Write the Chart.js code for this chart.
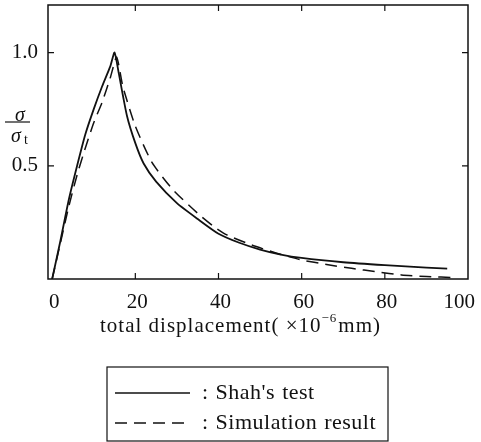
<!DOCTYPE html>
<html>
<head>
<meta charset="utf-8">
<script src="https://cdn.jsdelivr.net/npm/chart.js@4.4.1/dist/chart.umd.min.js"></script>
<style>
  html, body { margin: 0; padding: 0; background: #fff; }
  #wrap { width: 481px; height: 442px; }
</style>
</head>
<body>
<div id="wrap"><canvas id="chart"></canvas></div>
<script>
// data
var shahX = [0, 2, 4, 6, 8, 10, 12, 14, 15, 16, 18, 20, 22, 25, 30, 35, 40, 45, 50, 55, 60, 70, 80, 90, 95];
var shahY = [0, 0.17, 0.35, 0.50, 0.64, 0.75, 0.85, 0.94, 1.0, 0.91, 0.72, 0.60, 0.51, 0.43, 0.335, 0.265, 0.20, 0.16, 0.13, 0.108, 0.093, 0.074, 0.061, 0.050, 0.046];
var simX = [0, 2, 4, 6, 8, 10, 12, 14, 15.5, 17, 20, 24, 29, 35, 39, 42, 48, 54, 60, 66, 72, 78, 84, 90, 97];
var simY = [0, 0.16, 0.32, 0.46, 0.58, 0.69, 0.78, 0.89, 0.98, 0.85, 0.675, 0.515, 0.395, 0.29, 0.23, 0.195, 0.15, 0.114, 0.084, 0.064, 0.047, 0.032, 0.018, 0.011, 0.006];
var seriesNames = ["Shah's test", "Simulation result"];
var xTicks = [0, 20, 40, 60, 80, 100];
var yTicks = [0.5, 1.0];

var ink = '#111';
var serif = '"Liberation Serif", "DejaVu Serif", serif';

function toPoints(xs, ys) {
    return xs.map(function (x, i) { return { x: x, y: ys[i] }; });
}

// frame, inward ticks, x labels, axis titles and legend box
var decorPlugin = {
    id: 'decor',
    afterDraw: function (chart) {
        var ctx = chart.ctx;
        var a = chart.chartArea;
        var xs = chart.scales.x, ys = chart.scales.y;
        ctx.save();
        ctx.strokeStyle = ink;
        ctx.fillStyle = ink;
        ctx.lineWidth = 1.5;
        ctx.strokeRect(a.left, a.top, a.right - a.left, a.bottom - a.top);

        // inward ticks
        ctx.lineWidth = 1.2;
        xTicks.forEach(function (v) {
            if (v === 0 || v === 100) return;
            var px = xs.getPixelForValue(v);
            ctx.beginPath();
            ctx.moveTo(px, a.bottom); ctx.lineTo(px, a.bottom - 6);
            ctx.moveTo(px, a.top); ctx.lineTo(px, a.top + 6);
            ctx.stroke();
        });
        yTicks.forEach(function (v) {
            var py = ys.getPixelForValue(v);
            ctx.beginPath();
            ctx.moveTo(a.left, py); ctx.lineTo(a.left + 6, py);
            ctx.moveTo(a.right, py); ctx.lineTo(a.right - 6, py);
            ctx.stroke();
        });

        // x tick labels
        ctx.font = '21px ' + serif;
        ctx.textBaseline = 'middle';
        ctx.textAlign = 'left';
        xTicks.forEach(function (v) {
            var txt = String(v);
            var w = ctx.measureText(txt).width;
            var cx = Math.min(xs.getPixelForValue(v) + 2, chart.width - 6 - w / 2);
            ctx.fillText(txt, cx - w / 2, a.bottom + 23);
        });

        // x title with superscript
        ctx.letterSpacing = '1px';
        var p1 = 'total displacement( \u00d710', p2 = '\u22126', p3 = 'mm)';
        ctx.font = '21px ' + serif;
        var w1 = ctx.measureText(p1).width, w3 = ctx.measureText(p3).width;
        ctx.font = '13px ' + serif;
        var w2 = ctx.measureText(p2).width;
        var sx = 240 - (w1 + w2 + w3) / 2, ty = a.bottom + 47;
        ctx.font = '21px ' + serif;
        ctx.fillText(p1, sx, ty);
        ctx.font = '13px ' + serif;
        ctx.fillText(p2, sx + w1, ty - 7);
        ctx.font = '21px ' + serif;
        ctx.fillText(p3, sx + w1 + w2 + 1, ty);
        ctx.letterSpacing = '0px';

        // y title: sigma over sigma_t
        ctx.textAlign = 'center';
        ctx.font = 'italic 20px ' + serif;
        ctx.fillText('\u03c3', 20, 116);
        ctx.lineWidth = 1.2;
        ctx.beginPath(); ctx.moveTo(5, 122); ctx.lineTo(30, 122); ctx.stroke();
        ctx.fillText('\u03c3', 16, 137);
        ctx.font = '14px ' + serif;
        ctx.fillText('t', 26, 140);

        // legend box
        ctx.lineWidth = 1.2;
        ctx.strokeRect(107, 367, 281, 74);
        var rows = [393, 423];
        chart.data.datasets.forEach(function (ds, i) {
            ctx.setLineDash(ds.borderDash || []);
            ctx.lineWidth = 1.3;
            ctx.beginPath(); ctx.moveTo(115, rows[i]); ctx.lineTo(190, rows[i]); ctx.stroke();
            ctx.setLineDash([]);
            ctx.font = '22px ' + serif;
            ctx.textAlign = 'left';
            ctx.letterSpacing = '0.5px';
            ctx.wordSpacing = '1px';
            ctx.fillText(': ' + ds.label, 202, rows[i]);
            ctx.letterSpacing = '0px';
            ctx.wordSpacing = '0px';
        });
        ctx.restore();
    }
};

var chart = new Chart(document.getElementById('chart'), {
    type: 'line',
    data: {
        datasets: [{
            label: seriesNames[0],
            data: toPoints(shahX, shahY),
            borderColor: ink,
            borderWidth: 1.8,
            pointRadius: 0,
            tension: 0.2,
            fill: false
        }, {
            label: seriesNames[1],
            data: toPoints(simX, simY),
            borderColor: ink,
            borderWidth: 1.5,
            borderDash: [12, 7],
            pointRadius: 0,
            tension: 0.2,
            fill: false
        }]
    },
    options: {
        responsive: true,
        maintainAspectRatio: false,
        animation: false,
        layout: { padding: { top: 5, right: 13, left: 0, bottom: 0 } },
        plugins: { legend: { display: false }, tooltip: { enabled: false } },
        scales: {
            x: {
                type: 'linear',
                min: -1,
                max: 100,
                grid: { display: false, drawTicks: false },
                border: { display: false },
                ticks: { display: false },
                afterFit: function (s) { s.height = 163; s.paddingLeft = 0; s.paddingRight = 0; }
            },
            y: {
                min: 0,
                max: 1.21,
                grid: { display: false, drawTicks: false },
                border: { display: false },
                afterBuildTicks: function (s) { s.ticks = yTicks.map(function (v) { return { value: v }; }); },
                ticks: {
                    color: ink,
                    padding: 10,
                    font: { family: serif, size: 21 },
                    callback: function (v) { return Number(v).toFixed(1); }
                },
                afterFit: function (s) { s.width = 48; s.paddingTop = 0; s.paddingBottom = 0; }
            }
        }
    },
    plugins: [decorPlugin]
});
</script>
</body>
</html>
